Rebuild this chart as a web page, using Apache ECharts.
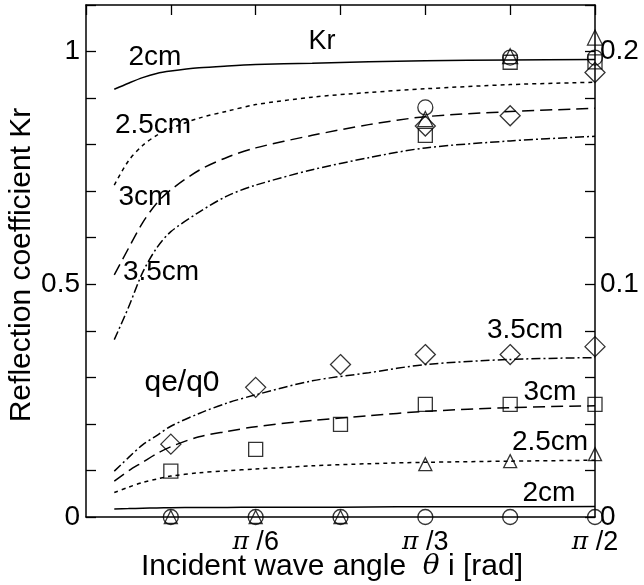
<!DOCTYPE html>
<html>
<head>
<meta charset="utf-8">
<script src="https://cdn.jsdelivr.net/npm/echarts@6/dist/echarts.min.js"></script>
<style>
  html, body { margin: 0; padding: 0; background: #fff; }
  #chart { width: 644px; height: 585px; }
</style>
</head>
<body>
<div id="chart"></div>
<script>
// x is the incident angle in degrees, 0..90 == 0..π/2
const xLabels = { 30: 'π', 60: 'π', 90: 'π' }
const xLabelDen = { 30: '6', 60: '3', 90: '2' }
const leftLabelValues = [0, 0.5, 1]
const rightLabelValues = [0, 0.1, 0.2]

const angles = [5, 7.5, 10, 12.5, 15, 20, 25, 30, 40, 50, 60, 75, 90]

// Kr curves (left axis)
const kr2 = [0.919, 0.932, 0.944, 0.953, 0.958, 0.965, 0.969, 0.972, 0.975, 0.978, 0.980, 0.982, 0.983]
const kr25 = [0.713, 0.765, 0.798, 0.82, 0.835, 0.857, 0.872, 0.886, 0.902, 0.912, 0.92, 0.929, 0.934]
const kr3 = [0.52, 0.577, 0.632, 0.674, 0.703, 0.745, 0.773, 0.793, 0.82, 0.843, 0.86, 0.871, 0.878]
const kr35 = [0.381, 0.45, 0.525, 0.578, 0.613, 0.655, 0.69, 0.713, 0.746, 0.772, 0.793, 0.808, 0.818]

// qe/q0 curves (right axis)
const qe2 = [0.0034, 0.0036, 0.0038, 0.0039, 0.004, 0.0041, 0.0041, 0.0042, 0.0042, 0.0043, 0.0044, 0.0044, 0.0045]
const qe25 = [0.0105, 0.0128, 0.0148, 0.0163, 0.0176, 0.019, 0.0199, 0.0206, 0.022, 0.0229, 0.0235, 0.024, 0.0244]
const qe3 = [0.0154, 0.0198, 0.0235, 0.0272, 0.0302, 0.0345, 0.0368, 0.0388, 0.0415, 0.0435, 0.0454, 0.047, 0.0478]
const qe35 = [0.0197, 0.0255, 0.031, 0.035, 0.039, 0.0445, 0.049, 0.0525, 0.0585, 0.062, 0.0655, 0.0677, 0.0685]

// measured Kr
const krCircle = [[60, 0.88], [75, 0.987], [90, 0.987]]
const krTriangle = [[60, 0.855], [75, 0.99], [90, 1.03]]
const krSquare = [[60, 0.82], [75, 0.977], [90, 0.978]]
const krDiamond = [[60, 0.84], [75, 0.862], [90, 0.955]]

// measured qe/q0
const qeCircle = [[15, 0], [30, 0], [45, 0], [60, 0], [75, 0], [90, 0]]
const qeTriangle = [[15, 0], [30, 0], [45, 0], [60, 0.0227], [75, 0.024], [90, 0.027]]
const qeSquare = [[15, 0.0197], [30, 0.0291], [45, 0.0398], [60, 0.0484], [75, 0.0484], [90, 0.0484]]
const qeDiamond = [[15, 0.0313], [30, 0.0557], [45, 0.0655], [60, 0.0698], [75, 0.0698], [90, 0.0732]]

const FONT = 'Liberation Sans, Arial, sans-serif'
const near = (v, list) => list.find(t => Math.abs(v - t) < 1e-6)

function curve(values, yAxisIndex, type) {
  return {
    type: 'line', data: values.map((v, i) => [angles[i], v]), yAxisIndex,
    smooth: 0.3, symbol: 'none', silent: true, z: 2,
    lineStyle: { color: '#000', width: 1.5, type }
  }
}

function marks(data, yAxisIndex, symbol, size) {
  return {
    type: 'scatter', data, yAxisIndex, symbol, symbolSize: size, clip: false, silent: true, z: 3,
    itemStyle: { color: 'rgba(0,0,0,0)', borderColor: '#000', borderWidth: 1.3 }
  }
}

function note(text, x, y, size) {
  return {
    type: 'text', x, y, silent: true,
    style: { text, fontSize: size || 28, fontFamily: FONT, fill: '#000', textAlign: 'center', textVerticalAlign: 'middle' }
  }
}

const axisLine = { show: true, onZero: false, lineStyle: { color: '#000', width: 1.5 } }
const tickIn = { show: true, inside: true, length: 10, lineStyle: { color: '#000', width: 1.3 } }

const chart = echarts.init(document.getElementById('chart'))
chart.setOption({
  animation: false,
  backgroundColor: '#fff',
  grid: { left: 86, right: 49, top: 5, bottom: 68 },
  xAxis: [
    {
      type: 'value', min: 0, max: 90, interval: 15, position: 'bottom',
      axisLine, axisTick: { show: false }, splitLine: { show: false },
      axisLabel: {
        margin: 12, color: '#000', fontSize: 27, fontFamily: FONT,
        formatter: v => xLabels[v] ? '{p|' + xLabels[v] + '} /' + xLabelDen[v] : '',
        rich: { p: { fontFamily: 'DejaVu Serif', fontStyle: 'italic', fontSize: 25, color: '#000' } }
      }
    },
    {
      type: 'value', min: 0, max: 90, interval: 15, position: 'top',
      axisLine, axisTick: tickIn, axisLabel: { show: false }, splitLine: { show: false }
    }
  ],
  yAxis: [
    {
      type: 'value', min: 0, max: 1.1, interval: 0.1, position: 'left',
      axisLine, axisTick: tickIn, splitLine: { show: false },
      axisLabel: {
        margin: 6, color: '#000', fontSize: 28, fontFamily: FONT,
        formatter: v => { const t = near(v, leftLabelValues); return t === undefined ? '' : String(t) }
      }
    },
    {
      type: 'value', min: 0, max: 0.22, interval: 0.02, position: 'right',
      axisLine, axisTick: tickIn, splitLine: { show: false },
      axisLabel: {
        margin: 5, color: '#000', fontSize: 28, fontFamily: FONT,
        formatter: v => { const t = near(v, rightLabelValues); return t === undefined ? '' : String(t) }
      }
    }
  ],
  series: [
    curve(kr2, 0, 'solid'),
    curve(kr25, 0, [4, 4]),
    curve(kr3, 0, [12, 6]),
    curve(kr35, 0, [9, 3, 2, 3]),
    curve(qe2, 1, 'solid'),
    curve(qe25, 1, [4, 4]),
    curve(qe3, 1, [12, 6]),
    curve(qe35, 1, [9, 3, 2, 3]),
    marks(krCircle, 0, 'circle', 15),
    marks(krTriangle, 0, 'triangle', 15),
    marks(krSquare, 0, 'rect', 14),
    marks(krDiamond, 0, 'diamond', 20),
    marks(qeCircle, 1, 'circle', 15),
    marks(qeTriangle, 1, 'triangle', 13),
    marks(qeSquare, 1, 'rect', 14),
    marks(qeDiamond, 1, 'diamond', 20)
  ],
  graphic: [
    note('Kr', 322, 42, 27),
    note('2cm', 155, 57),
    note('2.5cm', 153, 125),
    note('3cm', 145, 197),
    note('3.5cm', 161, 272),
    note('qe/q0', 182, 383, 30),
    note('3.5cm', 525, 330),
    note('3cm', 550, 392),
    note('2.5cm', 550, 442),
    note('2cm', 549, 493),
    {
      type: 'text', x: 22, y: 265, rotation: Math.PI / 2, silent: true,
      style: { text: 'Reflection coefficient Kr', fontSize: 30, fontFamily: FONT, fill: '#000', textAlign: 'center', textVerticalAlign: 'middle' }
    },
    {
      type: 'text', x: 332, y: 567, silent: true,
      style: {
        text: 'Incident wave angle  {th|θ} i [rad]', fontSize: 30, fontFamily: FONT, fill: '#000',
        textAlign: 'center', textVerticalAlign: 'middle',
        rich: { th: { fontFamily: 'DejaVu Serif', fontStyle: 'italic', fontSize: 28, fill: '#000' } }
      }
    }
  ]
})
</script>
</body>
</html>
